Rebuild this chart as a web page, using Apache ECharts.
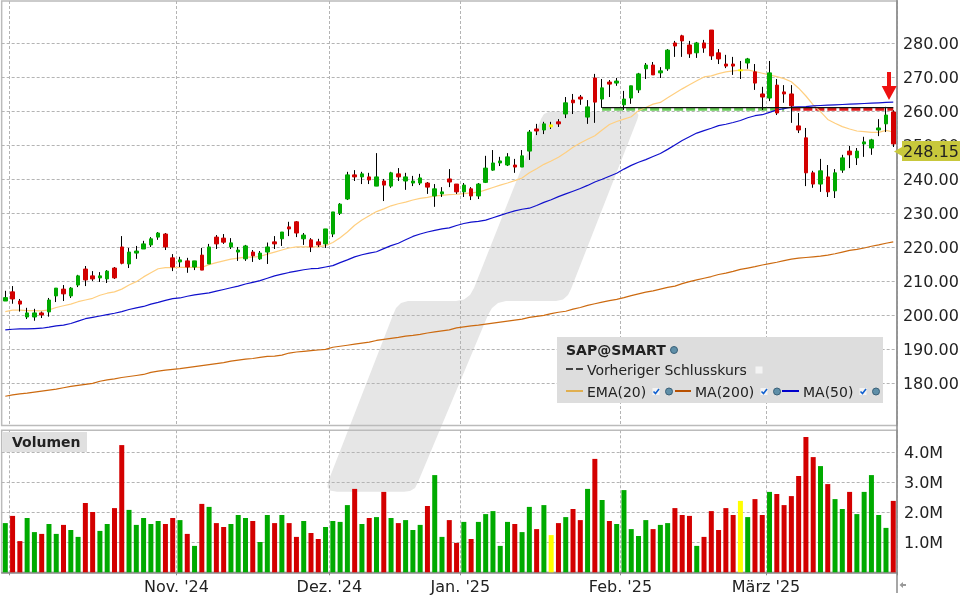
<!DOCTYPE html>
<html>
<head>
<meta charset="utf-8">
<title>SAP@SMART</title>
<style>html,body{margin:0;padding:0;background:#fff}</style>
<script src="https://cdn.jsdelivr.net/npm/echarts@6/dist/echarts.min.js"></script>
</head>
<body>
<div id="main" style="width:960px;height:600px;"></div>
<script type="text/javascript">
var opens = [204.2,206.9,204.2,199.5,199.5,200.7,201,205.7,207.7,205.7,208.9,213.6,211.6,211,210.7,213.9,220.1,215.1,218.3,219.5,220.7,223,223.9,216.9,215.7,216,214.2,217.7,215.1,223,222.7,220.1,218.6,
  216.6,218.6,216.6,218.6,221.6,222.5,226,227.5,222.5,222.2,221.6,221,223.9,230,234.2,241.3,240.7,240.7,238,239.5,238,241.6,239.5,238.9,238.9,238.9,235.1,235.7,240.1,238.6,236.3,237.2,235.1,
  239.1,242.7,244.8,244.2,244.2,243.6,248.3,254.8,254.5,255.4,256.9,259.2,263.3,264.2,258.3,269.8,263.6,268.6,268.3,261.9,263.9,266.3,272.5,273.6,271.3,272.5,280.1,282.2,279.5,277.2,280.1,
  283.9,277.2,273.9,273.9,272.2,274.2,271.6,265.1,263.9,267.7,265.7,265.1,255.7,252.2,241.9,238.6,240.7,236.6,242.7,248.3,246.3,250.4,249.2,254.5,256.3,259.8];
var closes = [205.2,204.8,203.3,200.7,200.7,200.1,204.5,208,206.3,208,211.6,210.4,210.7,211.6,213,211,215.3,218.6,218.9,221,222.5,224.2,220.1,214.2,216.3,214.2,216,213.3,220.1,221,221.5,221.3,219.2,
  220.4,217.5,218.3,220.1,221,224.5,225.4,224.2,223.6,220.1,220.7,225.4,230.4,232.7,241.3,240.7,241.6,239.8,240.7,238.3,241.9,240.7,240.7,239.5,240.4,237.7,237.2,236.3,239.2,236.3,238.3,235.1,238.6,
  243.3,244.8,245.4,246.6,243.6,246.9,253.9,254.2,256.3,256,256.3,262.5,262.5,263.6,261.3,262.7,266.9,268,268.9,263.6,267.5,271,273.6,270.7,271.9,278,279.2,280.7,276.9,280.1,278.6,
  276.3,275.4,273.3,273.3,271.9,275.4,268.3,264.2,271.3,259.5,265.1,261.6,254.5,241.9,238.6,242.5,236.3,241.9,246.3,247.2,248.3,251,251.6,255.1,258.9,250.4];
var lows = [204.2,203.4,201.1,198.9,198.4,199.2,199.6,203.9,204.2,205.1,208.3,208.6,210.1,209.8,209.5,210.7,215,213.9,216.6,219.5,220.1,222.2,219.2,213,214.2,212.5,213.3,213.3,215.1,219.5,221,219.5,216,
  216,215.7,216.3,215.1,219.5,220.4,223.3,223,220.7,218.6,220.1,219.8,223,229.5,233.9,239.5,238.6,238.6,238,233.6,237.5,239.5,236.9,238,238.3,235.7,231.9,234.8,237.7,235.7,234.8,233.9,234.2,
  238.9,242.5,243.9,243.9,241.9,243.6,245.7,253,253.3,254.8,255.4,258,259.2,261.9,256.3,256.6,261,264.2,267.5,260.4,262.2,265.4,269.5,270.7,269.8,271.9,276,276,275.7,275.7,277.2,
  275.1,273.9,272.7,270.7,269.5,272.5,266.3,260.4,263,258.9,262.5,256.6,253.6,238,237.5,236.3,234.8,234.5,241.9,243.3,244.2,246.6,247.2,252.7,253.9,249.5];
var highs = [207.2,208.6,204.8,202.2,201.9,201.1,205.1,208,208.9,208.3,211.9,214.5,213,212.7,213.3,214.2,223.3,219.8,220.4,221.9,223,224.5,224.2,218,217.2,216.9,216,219.8,221,223.6,223.9,222.7,220.1,
  220.7,219.2,218.9,221.4,223.3,224.5,227.5,227.7,224.2,222.7,222.5,225.4,230.4,233,242.2,242.7,242.2,241.9,247.7,240.1,242.2,243.3,241.9,241,241.6,239.2,238.6,237.7,243,238.6,238.9,237.7,238.9,
  246.9,248.6,246.6,247.7,246,248.6,254.5,256.3,256.9,256.9,257.7,264.2,265.1,264.8,263.3,271,269.5,269.2,269.8,266,267.5,271.3,274.2,274.5,273,278.3,280.7,282.5,280.7,280.4,281,
  283.9,278.3,276.6,276,274.8,275.7,273.9,267.2,274.8,269.5,267.7,267.7,259.5,255.1,242.5,246,244.2,243,247.2,249.8,249.2,252.5,251.9,257.7,261.3,260.3];

var ema20 = [201.1,201.5,201.5,201.4,201.4,201.3,201.6,202.3,202.8,203.3,204,204.5,205,205.9,206.5,206.9,207.7,208.9,209.9,211.3,212.5,213.7,214,214,214.1,214.1,214.1,214.1,214.9,215.5,216,216.5,216.8,
  217.1,217.1,217.3,218,218.6,219.2,219.8,220.1,220.1,220.1,220.1,220.5,221.4,222.8,224.5,226.5,228,229.3,230.5,231.3,232.2,232.8,233.3,233.9,234.4,234.7,235.1,235.3,235.5,235.6,235.8,236,236.2,
  236.9,237.6,238.3,238.9,239.6,240.4,241.9,243.1,244.4,245.4,246.5,247.9,249.4,250.7,251.8,252.8,254.5,256.1,257,257.7,258.4,260.2,261.1,262.1,262.6,264,265.3,266.6,267.8,269,270.1,
  270.4,271.1,271.6,271.9,272.1,272.2,271.7,271.2,270.7,270.2,269.6,268.7,266.8,264.5,261.9,259.9,257.6,256.5,255.5,254.8,254.2,254,253.8,253.8,254.4,253.9];
var ma50 = [195.7,195.9,196,196,196.1,196.2,196.5,196.9,197.1,197.6,198.3,199,199.4,199.8,200.2,200.6,201.1,201.7,202.2,202.6,203.3,203.8,204.4,204.9,205.1,205.6,206,206.3,206.6,207.1,207.6,208.1,208.6,
  209.2,209.7,210.2,210.9,211.6,212.1,212.6,213,213.4,213.7,213.8,214.2,214.6,215.5,216.3,217.2,217.8,218.3,218.7,219.6,220.5,221.2,222.2,223.2,223.9,224.5,225,225.4,225.7,226.4,227,227.4,227.6,
  228,228.7,229.4,230.1,230.7,231.2,231.5,232.3,233.2,234,234.9,235.7,236.5,237.3,238.2,239.2,240,240.9,241.8,243,244.1,245,245.8,246.7,247.6,248.8,250.1,251.4,252.5,253.6,254.3,
  255,255.8,256.2,256.7,257.3,258.1,258.7,259,259.7,260.4,260.8,261.2,261.3,261.4,261.6,261.7,261.8,261.9,262,262.1,262.2,262.3,262.4,262.5,262.6,262.7];
var ma200 = [176.2,176.6,176.9,177.1,177.4,177.7,178,178.3,178.7,179.1,179.4,179.7,180,180.6,181,181.3,181.7,182,182.3,182.6,183.2,183.6,183.9,184.1,184.3,184.6,184.9,185.2,185.5,185.8,186.1,186.5,186.8,
  187.1,187.3,187.6,187.9,188,188.3,188.9,189.2,189.4,189.6,189.8,190,190.6,190.9,191.2,191.5,191.8,192.1,192.6,192.9,193.2,193.5,193.9,194.1,194.4,194.8,195.1,195.4,195.7,196.3,196.6,196.9,197.1,
  197.4,197.7,198,198.3,198.6,198.9,199.4,199.7,200,200.5,200.9,201.2,201.8,202.3,202.9,203.4,203.9,204.3,204.7,205.2,205.8,206.3,206.8,207.2,207.7,208.2,208.6,209.3,209.9,210.4,210.9,
  211.4,212,212.4,212.9,213.5,213.9,214.3,214.8,215.2,215.6,216.1,216.5,216.8,217,217.2,217.4,217.7,218.1,218.6,219.1,219.4,219.8,220.3,220.7,221.2,221.6];

var volumes = [1.64,1.88,1.04,1.81,1.34,1.28,1.61,1.28,1.58,1.41,1.18,2.31,2.01,1.38,1.61,2.14,4.24,2.08,1.58,1.81,1.61,1.71,1.61,1.81,1.74,1.28,0.88,2.28,2.18,1.64,1.51,1.61,1.91,1.81,1.71,1.01,1.91,1.64,1.91,1.64,1.18,1.71,1.31,1.11,
  1.51,1.71,1.68,2.24,2.78,1.61,1.81,1.84,2.68,1.81,1.64,1.74,1.41,1.58,2.21,3.24,1.18,1.74,0.98,1.68,1.11,1.68,1.94,2.04,0.88,1.68,1.61,1.34,2.18,1.44,2.24,1.24,1.64,1.84,2.11,1.74,2.78,3.78,2.41,1.71,1.61,2.74,1.44,1.21,
  1.74,1.44,1.58,1.64,2.14,1.91,1.88,0.88,1.18,2.04,1.41,2.14,1.91,2.38,1.84,2.44,1.91,2.68,2.61,2.24,2.54,3.21,4.51,3.84,3.54,2.94,2.44,2.11,2.68,1.94,2.68,3.24,1.91,1.48,2.38];
var volumeDirs = ('grrggrggrggrrggrrggggg' + 'rrgrgrgrrgggrggrgrrgrr' +
  'ggggrgrgrgrgggrggrrgrg' + 'ggggrggrgyrgrrgrgrgggg' +
  'grggrrrgrrrrrygrrgrrrr' + 'rrgrggrgggggr').split('');

var priceTicks = [180,190,200,210,220,230,240,250,260,270,280];
var volumeTicks = [1,2,3,4];
var monthStarts = [1,24,45,63,85,105];
var monthLabels = ['',"Nov. '24","Dez. '24","Jan. '25","Feb. '25","März '25"];
var dojiDays = [75,101];
var prevClose = 261.1;
var stopGreen = 260.7;
var stopRed = 260.7;
var prevCloseFrom = 82;
var stopSwitch = 108;
var lastPrice = '248.15';

var GREEN = '#00AA00', RED = '#D30000', YELLOW = '#FFFF00';
var FONT = '"DejaVu Sans", Verdana, sans-serif';
var gridDash = {color: '#b4b4b4', width: 1, type: [3, 2]};

var myChart = echarts.init(document.getElementById('main'), null, {renderer: 'canvas'});

var days = opens.map(function (v, i) { return String(i); });

// black wicks below, coloured bodies on top
var wicks = opens.map(function (v, i) { return [opens[i], closes[i], lows[i], highs[i]]; });
var bodies = opens.map(function (v, i) {
  var lo = Math.min(opens[i], closes[i]), hi = Math.max(opens[i], closes[i]);
  var item = {value: [opens[i], closes[i], lo, hi]};
  if (dojiDays.indexOf(i) >= 0) {
    item.itemStyle = {color: YELLOW, color0: YELLOW, borderColor: YELLOW, borderColor0: YELLOW};
  }
  return item;
});
var volumeBars = volumes.map(function (v, i) {
  var d = volumeDirs[i];
  return {value: v, itemStyle: {color: d === 'g' ? GREEN : d === 'r' ? RED : YELLOW}};
});

function levelLine(level, from, to) {
  return days.map(function (d, i) { return i >= from && i <= to ? level : null; });
}
function isMonth(i) { return monthStarts.indexOf(i) >= 0; }

function lineSeries(name, data, color, width) {
  return {name: name, type: 'line', data: data, showSymbol: false, silent: true, z: 4,
    xAxisIndex: 0, yAxisIndex: 0, lineStyle: {color: color, width: width}};
}

function label(text, x, y, bold, size, color) {
  return {type: 'text', x: x, y: y + 1, z: 102, silent: true, style: {text: text, fill: color || '#222222',
    font: (bold ? 'bold ' : '') + (size || 14) + 'px ' + FONT, textVerticalAlign: 'middle', verticalAlign: 'middle'}};
}
function legendLine(x1, x2, y, color, dash) {
  return {type: 'line', z: 102, silent: true, shape: {x1: x1, y1: y, x2: x2, y2: y},
    style: {stroke: color, lineWidth: 2, lineDash: dash || null}};
}
function globe(x, y) {
  return {type: 'circle', z: 102, silent: true, shape: {cx: x, cy: y, r: 3.5},
    style: {fill: '#5f8fa8', stroke: '#3a6078', lineWidth: 1}};
}
function check(x, y) {
  return [
    {type: 'rect', z: 102, silent: true, shape: {x: x - 3.5, y: y - 3.5, width: 7, height: 7}, style: {fill: '#f4f4f4'}},
    {type: 'polyline', z: 103, silent: true, shape: {points: [[x - 2.5, y], [x - 0.5, y + 2], [x + 3, y - 2.5]]},
      style: {stroke: '#1060d0', lineWidth: 1.6, fill: null}}
  ];
}

var watermark = [[549,111.7],[633,111.7],[637,112.5],[638.5,115],[637.5,119],[571,289],[568,295],[563,299.5],[556,301],[506,301],[498,303],[492,308],[488,315],
  [418,482],[415,488],[410,491],[404,491.7],[337,491.7],[330,490.5],[327.5,487],[328,482],[393,315],[396,308],[401,303],[408,301],[456,301],[464,299.5],[470,295],[474,288],[541,119],[544,114],[549,111.7]];

var graphics = [
  {type: 'polygon', z: -10, silent: true, shape: {points: watermark}, style: {fill: '#e6e6e6'}},
  {type: 'line', z: 90, silent: true, shape: {x1: 897, y1: 0, x2: 897, y2: 593}, style: {stroke: '#888888', lineWidth: 1.5}},
  {type: 'polygon', z: 90, silent: true, shape: {points: [[899.5,585],[903,582],[903,584],[906,584],[906,586],[903,586],[903,588]]}, style: {fill: '#999999'}},
  // arrow over the last bars
  {type: 'polygon', z: 92, silent: true, shape: {points: [[887,72],[891,72],[891,86],[896.7,86],[889,100],[881.7,86],[887,86]]}, style: {fill: '#EE1111'}},
  // last price tag
  {type: 'polygon', z: 95, silent: true, shape: {points: [[894,151.5],[902,147],[902,141],[960,141],[960,161],[902,161],[902,156]]}, style: {fill: '#C8C83C'}},
  label(lastPrice, 903, 151.5, false, 16),
  // volume panel caption
  {type: 'rect', z: 101, silent: true, shape: {x: 3, y: 432, width: 84, height: 20}, style: {fill: '#e0e0e0'}},
  label('Volumen', 12, 442.5, true, 14),
  // legend box
  {type: 'rect', z: 20, silent: true, shape: {x: 557, y: 337, width: 326, height: 66}, style: {fill: '#dddddd'}},
  label('SAP@SMART', 566, 350, true, 14), globe(674, 350),
  legendLine(566, 583, 369, '#444444', [7, 3]),
  label('Vorheriger Schlusskurs', 587, 370, false, 14),
  {type: 'rect', z: 102, silent: true, shape: {x: 755.5, y: 366.5, width: 7, height: 7}, style: {fill: '#f4f4f4'}},
  legendLine(566, 583, 391, '#E0AF50'), label('EMA(20)', 587, 392, false, 14), globe(669, 391.5),
  legendLine(675, 691, 391, '#B85000'), label('MA(200)', 695, 392, false, 14), globe(777, 391.5),
  legendLine(782, 799, 391, '#0000CC'), label('MA(50)', 803, 392, false, 14), globe(876, 391.5)
].concat(check(656, 391.5), check(764, 391.5), check(863, 391.5));

var option = {
  animation: false,
  backgroundColor: '#ffffff',
  textStyle: {fontFamily: FONT},
  graphic: {elements: graphics},
  grid: [
    {left: 1.66, top: 1, width: 895.24, height: 424.5, show: true, borderColor: '#bbbbbb', borderWidth: 1.5, outerBoundsMode: 'none'},
    {left: 1.66, top: 430.3, width: 895.24, height: 142, show: true, borderColor: '#bbbbbb', borderWidth: 1.5, outerBoundsMode: 'none'}
  ],
  xAxis: [
    {type: 'category', gridIndex: 0, data: days, axisLine: {show: false}, axisTick: {show: false}, axisLabel: {show: false},
      splitLine: {show: true, lineStyle: gridDash, interval: function (i) { return isMonth(i); }}},
    {type: 'category', gridIndex: 1, data: days,
      axisLine: {show: true, lineStyle: {color: '#888888', width: 1.5}},
      axisTick: {show: true, length: 3, lineStyle: {color: '#888888'}, interval: function (i) { return isMonth(i); }},
      splitLine: {show: true, lineStyle: gridDash, interval: function (i) { return isMonth(i); }},
      axisLabel: {
        show: true, color: '#222222', fontFamily: FONT, fontSize: 16, margin: 8, padding: [0, 7, 0, 0], hideOverlap: false,
        interval: function (i) { return isMonth(i) && i > 1; },
        formatter: function (v, i) { return monthLabels[monthStarts.indexOf(i)] || ''; }
      }}
  ],
  yAxis: [
    {type: 'value', gridIndex: 0, position: 'right', min: 167.59, max: 292.44, scale: true,
      axisLine: {show: false},
      axisTick: {show: false, customValues: priceTicks},
      splitLine: {show: true, lineStyle: gridDash},
      axisLabel: {show: true, customValues: priceTicks, color: '#222222', fontFamily: FONT, fontSize: 16, margin: 6,
        formatter: function (v) { return '{t|' + v.toFixed(2) + '}'; },
        rich: {t: {fontFamily: FONT, fontSize: 16, color: '#222222', padding: [4, 0, 0, 0]}}}},
    {type: 'value', gridIndex: 1, position: 'right', min: 0, max: 4.733,
      axisLine: {show: false},
      axisTick: {show: false, customValues: volumeTicks},
      splitLine: {show: true, lineStyle: gridDash},
      axisLabel: {show: true, customValues: volumeTicks, color: '#222222', fontFamily: FONT, fontSize: 16, margin: 7,
        formatter: function (v) { return '{t|' + v.toFixed(1) + 'M}'; },
        rich: {t: {fontFamily: FONT, fontSize: 16, color: '#222222', padding: [4, 0, 0, 0]}}}}
  ],
  series: [
    lineSeries('MA(200)', ma200, '#CC6A10', 1.2),
    lineSeries('EMA(20)', ema20, '#FFCF80', 1.2),
    lineSeries('MA(50)', ma50, '#1010CC', 1.2),
    {name: 'stop green', type: 'line', data: levelLine(stopGreen, prevCloseFrom, stopSwitch - 1), showSymbol: false, silent: true, z: 3,
      lineStyle: {color: '#66CC55', width: 3.5, type: [9, 3]}},
    {name: 'stop red', type: 'line', data: levelLine(stopRed, stopSwitch, days.length - 1), showSymbol: false, silent: true, z: 3,
      lineStyle: {color: '#E01818', width: 3.5, type: [9, 3]}},
    {name: 'Vorheriger Schlusskurs', type: 'line', data: levelLine(prevClose, prevCloseFrom, days.length - 1), showSymbol: false, silent: true, z: 6,
      lineStyle: {color: '#111111', width: 1.2}},
    {name: 'wicks', type: 'candlestick', data: wicks, barWidth: 1, silent: true, z: 5,
      itemStyle: {color: '#000000', color0: '#000000', borderColor: '#000000', borderColor0: '#000000', borderWidth: 1}},
    {name: 'SAP@SMART', type: 'candlestick', data: bodies, barWidth: 4, silent: true, z: 5,
      itemStyle: {color: GREEN, color0: RED, borderColor: GREEN, borderColor0: RED, borderWidth: 1}},
    {name: 'Volumen', type: 'bar', xAxisIndex: 1, yAxisIndex: 1, data: volumeBars, barWidth: 5, silent: true}
  ]
};

myChart.setOption(option);
</script>
</body>
</html>
